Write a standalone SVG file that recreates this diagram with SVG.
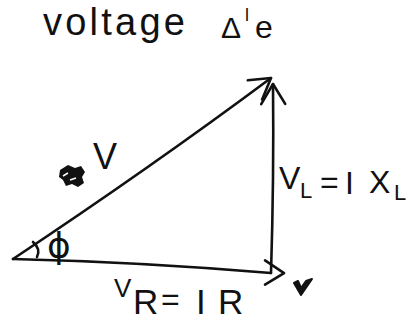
<svg xmlns="http://www.w3.org/2000/svg" width="408" height="323" viewBox="0 0 408 323">
<style>
.t{font-family:"Liberation Sans","DejaVu Sans",sans-serif;fill:#111}
.ln{fill:none;stroke:#111;stroke-width:2.6;stroke-linecap:round;stroke-linejoin:round}
</style>
<defs>
<marker id="head" markerUnits="userSpaceOnUse" viewBox="0 0 26 30" refX="23" refY="15" markerWidth="26" markerHeight="30" orient="auto">
<path d="M3,3 L23,15 L3,27" fill="none" stroke="#111" stroke-width="2.6" stroke-linecap="round" stroke-linejoin="round"/>
</marker>
<marker id="headOver" markerUnits="userSpaceOnUse" viewBox="0 0 26 30" refX="10" refY="15" markerWidth="26" markerHeight="30" orient="auto">
<path d="M3,3 L23,14 L5,27" fill="none" stroke="#111" stroke-width="2.6" stroke-linecap="round" stroke-linejoin="round"/>
</marker>
</defs>
<rect width="408" height="323" fill="#fff"/>
<g id="title">
<text class="t" x="43" y="35" font-size="38" textLength="142" lengthAdjust="spacing">voltage</text>
<text class="t" x="221" y="38" font-size="30">Δ</text>
<text class="t" x="245" y="21" font-size="18">l</text>
<text class="t" x="255" y="38" font-size="32">e</text>
</g>
<g id="connectors">
<path id="hyp" class="ln" d="M13,259 Q150,168 271,78" marker-end="url(#head)"/>
<path id="vr" class="ln" d="M13,259 Q140,262 271,273" marker-end="url(#headOver)"/>
<path id="vl" class="ln" d="M271,273 Q274,180 273,84" marker-end="url(#head)"/>
</g>
<g id="angle">
<path class="ln" d="M33,242 Q41,249 37,257"/>
<text x="47" y="258" font-size="36" font-family="DejaVu Sans,sans-serif" fill="#111">ϕ</text>
</g>
<g id="v-label">
<path d="M60,170 l8,-5 l7,3 l6,-2 l4,6 l-3,5 l2,6 l-6,4 l-6,-3 l-6,2 l-3,-6 l-4,-3 z" fill="#111"/>
<path d="M63,176 l5,-3 M70,180 l6,-2" stroke="#fff" stroke-width="1.5"/>
<text class="t" x="93" y="169" font-size="36">V</text>
</g>
<g id="vl-label">
<text class="t" x="279" y="189" font-size="32">V</text>
<text class="t" x="300" y="198" font-size="22">L</text>
<text class="t" x="320" y="193" font-size="32">=</text>
<text class="t" x="345" y="194" font-size="32">I</text>
<text class="t" x="369" y="193" font-size="32">X</text>
<text class="t" x="394" y="200" font-size="22">L</text>
</g>
<g id="vr-label">
<text class="t" x="114" y="297" font-size="26">V</text>
<text class="t" x="133" y="314" font-size="35">R</text>
<text class="t" x="161" y="310" font-size="32">=</text>
<text class="t" x="196" y="314" font-size="35">I</text>
<text class="t" x="218" y="314" font-size="35">R</text>
</g>
<g id="check">
<path d="M294,283 L301,295 L312,279 L306,281 L301,288 L298,281 Z" fill="#111" stroke="#111" stroke-width="2" stroke-linejoin="round"/>
</g>
</svg>
